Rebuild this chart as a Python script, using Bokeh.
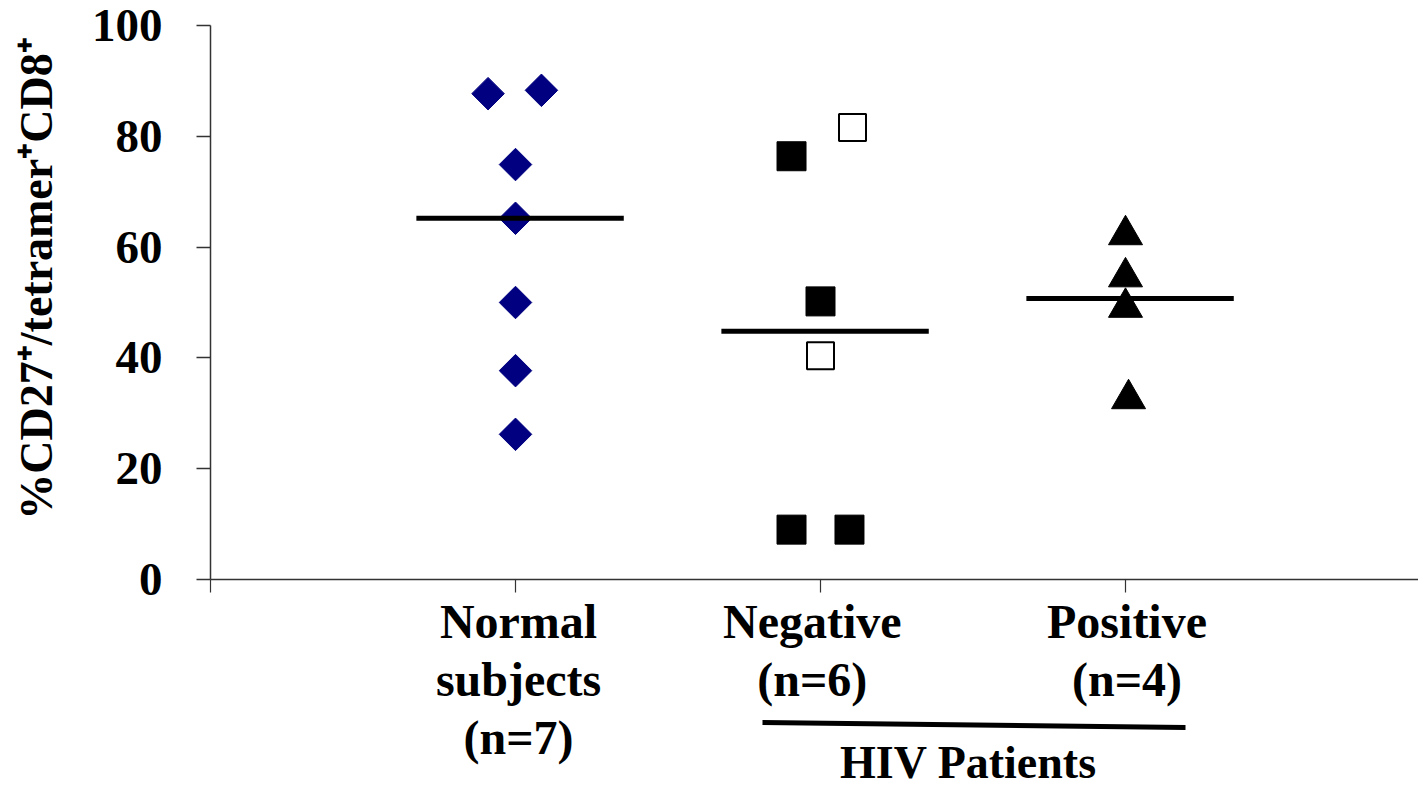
import math
from bokeh.plotting import figure
from bokeh.models import Range1d, FixedTicker, Label, Arrow
from bokeh.embed import file_html
from bokeh.resources import INLINE

# ---- data -------------------------------------------------------------
groups = ["Normal subjects", "Negative", "Positive"]
group_pos = [1, 2, 3]

normal_vals = [87.7, 88.3, 74.9, 65.2, 50.0, 37.7, 26.2]
normal_jitter = [-0.09, 0.085, 0, 0, 0, 0, 0]

neg_filled_vals = [76.4, 50.2, 9.0, 9.0]
neg_filled_jitter = [-0.095, 0, -0.095, 0.095]
neg_open_vals = [81.6, 40.4]
neg_open_jitter = [0.105, 0]

pos_vals = [62.2, 54.6, 49.1, 32.6]
pos_jitter = [0, 0, 0, 0.01]

medians = [65.2, 44.8, 50.7]

y_ticks = [0, 20, 40, 60, 80, 100]

FONT = "Liberation Serif"

# ---- geometry of the canvas -------------------------------------------
W, H = 1418, 788
X0_PX, Y0_PX, Y100_PX = 210, 579, 25    # where x=0, y=0 and y=100 sit
PX_X = 305.0                            # pixels per x unit
PX_Y = (Y0_PX - Y100_PX) / 100.0        # pixels per y unit


def xpix(px):
    return (px - X0_PX) / PX_X


def ypix(py):
    return (Y0_PX - py) / PX_Y


# the frame covers the whole canvas so the texts under the axis stay visible
p = figure(width=W, height=H, output_backend="svg", toolbar_location=None,
           x_range=Range1d(xpix(0), xpix(W)), y_range=Range1d(ypix(H), ypix(0)),
           min_border=0)
p.outline_line_color = None
p.xgrid.visible = False
p.ygrid.visible = False
p.background_fill_color = "white"
p.border_fill_color = "white"

# y axis, pinned at x = 0
p.yaxis.fixed_location = 0
p.yaxis.bounds = (0, 100)
p.yaxis.ticker = FixedTicker(ticks=y_ticks)
p.yaxis.minor_tick_line_color = None
p.yaxis.major_tick_in = 0
p.yaxis.major_tick_out = 14
p.yaxis.axis_line_color = "#333333"
p.yaxis.axis_line_width = 1.5
p.yaxis.major_tick_line_color = "#333333"
p.yaxis.major_tick_line_width = 1.5
p.yaxis.major_label_text_font = FONT
p.yaxis.major_label_text_font_style = "bold"
p.yaxis.major_label_text_font_size = "47px"
p.yaxis.major_label_text_color = "black"
p.yaxis.major_label_standoff = 34

# x axis, pinned at y = 0: ticks only, category names drawn as labels below
p.xaxis.fixed_location = 0
p.xaxis.bounds = (0, 4)
p.xaxis.ticker = FixedTicker(ticks=[0] + group_pos + [4])
p.xaxis.minor_tick_line_color = None
p.xaxis.major_tick_in = 0
p.xaxis.major_tick_out = 13
p.xaxis.axis_line_color = "#333333"
p.xaxis.axis_line_width = 1.5
p.xaxis.major_tick_line_color = "#333333"
p.xaxis.major_tick_line_width = 1.2
p.xaxis.major_label_text_color = None

# ---- points -----------------------------------------------------------
p.scatter([group_pos[0] + j for j in normal_jitter], normal_vals,
          marker="square", angle=math.pi / 4, size=23,
          fill_color="#000080", line_color="#000080")

p.scatter([group_pos[1] + j for j in neg_filled_jitter], neg_filled_vals,
          marker="square", size=29, fill_color="black", line_color="black")
p.scatter([group_pos[1] + j for j in neg_open_jitter], neg_open_vals,
          marker="square", size=27, fill_color="white", line_color="black",
          line_width=2)

p.scatter([group_pos[2] + j for j in pos_jitter], pos_vals,
          marker="triangle", size=34, fill_color="black", line_color="black")

# median bars
half = 0.34
p.segment(x0=[g - half + 0.015 for g in group_pos], y0=medians,
          x1=[g + half + 0.015 for g in group_pos], y1=medians,
          line_color="black", line_width=5)


# ---- texts below the axis --------------------------------------------
def add_text(x, y, text, size="48px", angle=0.0, baseline="alphabetic"):
    p.add_layout(Label(x=x, y=y, text=text, angle=angle,
                       text_font=FONT, text_font_style="bold",
                       text_font_size=size, text_color="black",
                       text_align="center", text_baseline=baseline))


cat_lines = [
    ["Normal", "subjects", "(n=7)"],
    ["Negative", "(n=6)"],
    ["Positive", "(n=4)"],
]
cat_shift = [0.01, -0.027, 0.005]
for g, dx, lines in zip(group_pos, cat_shift, cat_lines):
    for k, line in enumerate(lines):
        add_text(g + dx, ypix(621 + 58 * k), line)

# bracket line grouping the HIV patients
p.add_layout(Arrow(x_start=xpix(762), y_start=ypix(722),
                   x_end=xpix(1185), y_end=ypix(727),
                   start=None, end=None, line_color="black", line_width=5))
add_text(xpix(968), ypix(762), "HIV Patients", size="46px")

# y axis title
add_text(xpix(36), ypix(278), "%CD27\u207a/tetramer\u207aCD8\u207a",
         size="46px", angle=math.pi / 2, baseline="middle")

open("out.html", "w").write(file_html(p, INLINE))
